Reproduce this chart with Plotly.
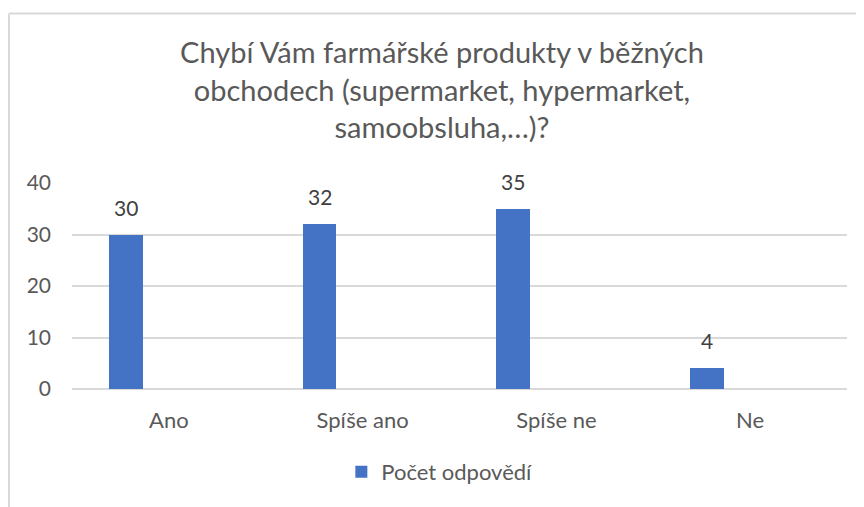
import plotly.graph_objects as go

categories = ["Ano", "Spíše ano", "Spíše ne", "Ne"]
values = [30, 32, 35, 4]
series_name = "Počet odpovědí"
title_lines = ["Chybí Vám farmářské produkty v běžných",
               "obchodech (supermarket, hypermarket,",
               "samoobsluha,…)?"]
y_ticks = [0, 10, 20, 30, 40]

W, H = 856, 499
L, R, T, B = 64, 17, 175, 118
plot_w = W - L - R
plot_h = H - T - B

bar_offset = -0.31
bar_width = 0.175
bar_center = bar_offset + bar_width / 2

FONT = "Lato"
TXT = "#595959"

fig = go.Figure()
fig.add_trace(go.Bar(
    x=categories, y=values, name=series_name,
    marker=dict(color="#4472C4", line=dict(width=0)),
    offset=bar_offset, width=bar_width,
    showlegend=True,
))

for i, v in enumerate(values):
    fig.add_annotation(
        x=i + bar_center, y=v, xref="x", yref="y",
        text=str(v), showarrow=False, yanchor="bottom", yshift=13,
        font=dict(family=FONT, size=21, color="#404040"),
    )

# chart border (light gray)
x_left = (1 - L) / plot_w
y_top = (H - B - 5.5) / plot_h
fig.add_shape(type="line", xref="paper", yref="paper",
              x0=x_left, x1=(W + 5 - L) / plot_w, y0=y_top, y1=y_top,
              line=dict(color="#d9d9d9", width=2))
fig.add_shape(type="line", xref="paper", yref="paper",
              x0=x_left, x1=x_left, y0=y_top, y1=-(B + 5) / plot_h,
              line=dict(color="#d9d9d9", width=2))

fig.update_layout(
    width=W, height=H,
    margin=dict(l=L, r=R, t=T, b=B, pad=0),
    paper_bgcolor="white", plot_bgcolor="white",
    title=dict(text="<br>".join(title_lines), x=434 / W, xanchor="center",
               xref="container", yref="container", y=1 - 55 / H, yanchor="top",
               font=dict(family=FONT, size=29, color=TXT)),
    font=dict(family=FONT, color=TXT),
    showlegend=True,
    legend=dict(orientation="h", x=0.474, xanchor="center",
                y=-(443 - (H - B)) / plot_h,
                yanchor="top", font=dict(family=FONT, size=22, color=TXT)),
    bargap=0,
)
fig.update_xaxes(type="category", showgrid=False, showline=False, ticks="",
                 tickfont=dict(family=FONT, size=22, color=TXT),
                 ticklabelstandoff=16)
fig.update_yaxes(range=[0, 40], tickvals=y_ticks, showgrid=True, gridcolor="#d9d9d9",
                 gridwidth=1.5, zeroline=True, zerolinecolor="#d9d9d9", zerolinewidth=1.5,
                 showline=False, ticks="", tickfont=dict(family=FONT, size=21, color=TXT),
                 ticklabelstandoff=20)

fig.write_html("out.html")
